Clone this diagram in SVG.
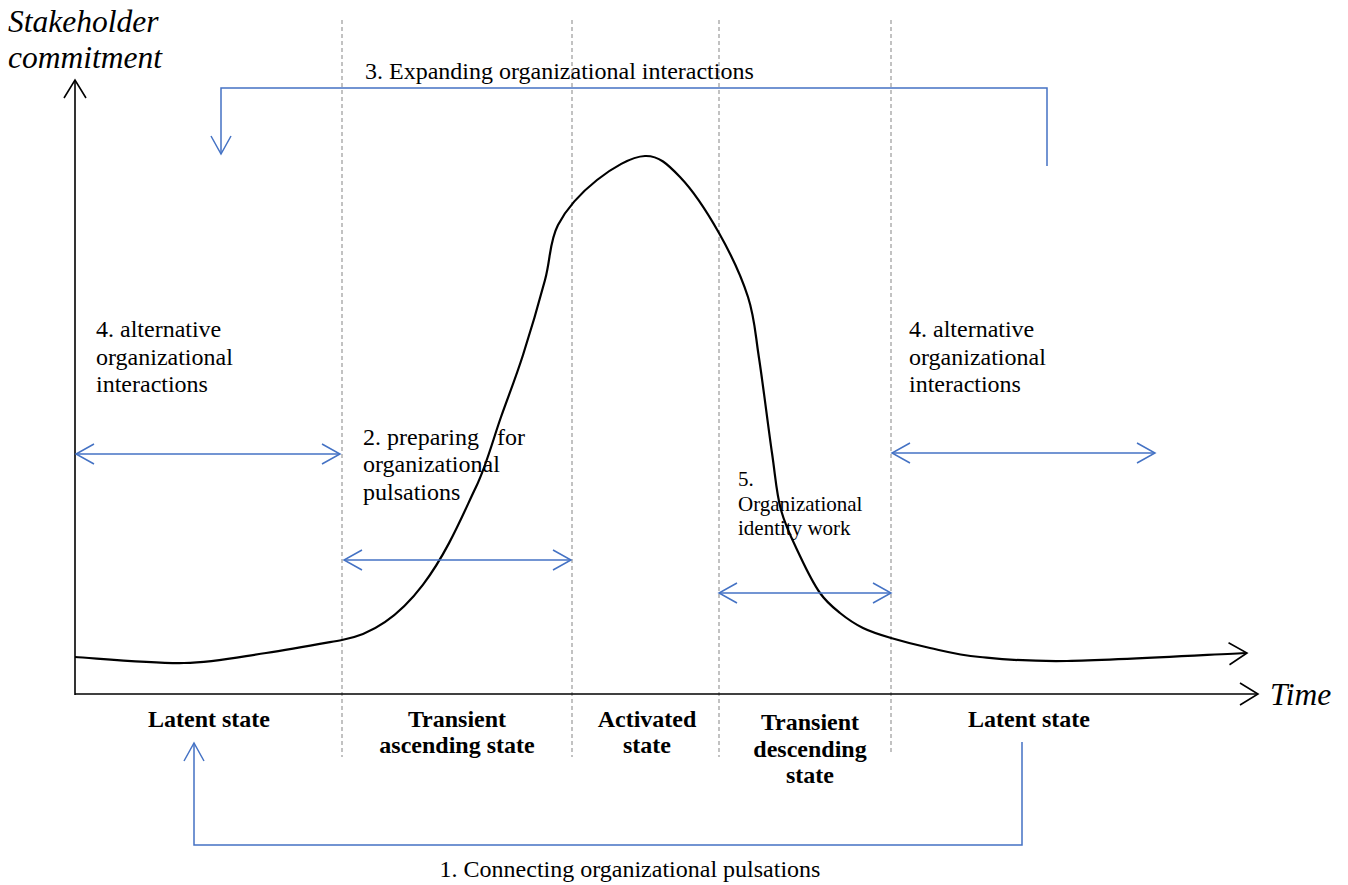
<svg xmlns="http://www.w3.org/2000/svg" width="1348" height="885" viewBox="0 0 1348 885">
<style>
.t{font-family:"Liberation Serif","Times New Roman",serif;font-size:24px;fill:#000}
.s{font-size:21px}
.b{font-weight:bold;text-anchor:middle}
.i{font-style:italic;font-size:31.5px}
.dash{stroke:#9a9a9a;stroke-width:1.2;stroke-dasharray:4 3;fill:none}
.blue{stroke:#4472C4;stroke-width:1.5;fill:none}
.axis{stroke:#000;stroke-width:1.6;fill:none}
</style>
<defs>
<marker id="bh" viewBox="-1 -1 20 22" refX="18" refY="10" markerWidth="20" markerHeight="22" markerUnits="userSpaceOnUse" orient="auto-start-reverse" overflow="visible">
<path d="M0,0 L18,10 L0,20" fill="none" stroke="#4472C4" stroke-width="1.5"/>
</marker>
<marker id="kh" viewBox="-1 -1 20 24" refX="18" refY="11" markerWidth="20" markerHeight="24" markerUnits="userSpaceOnUse" orient="auto" overflow="visible">
<path d="M0,0 L18,11 L0,22" fill="none" stroke="#000" stroke-width="1.6"/>
</marker>
</defs>
<rect width="1348" height="885" fill="#fff"/>

<g id="dividers">
<line class="dash" x1="342" y1="20" x2="342" y2="757"/>
<line class="dash" x1="572" y1="20" x2="572" y2="757"/>
<line class="dash" x1="719" y1="20" x2="719" y2="757"/>
<line class="dash" x1="891" y1="20" x2="891" y2="754"/>
</g>

<g id="axes">
<line class="axis" x1="75" y1="695" x2="75" y2="80" marker-end="url(#kh)"/>
<line class="axis" x1="75" y1="694" x2="1258" y2="694" marker-end="url(#kh)"/>
<text class="t i" x="8" y="32">Stakeholder</text>
<text class="t i" x="8" y="68">commitment</text>
<text class="t i" x="1270" y="705">Time</text>
</g>

<g id="curve">
<path fill="none" stroke="#000" stroke-width="2.2" marker-end="url(#kh)" d="M75,657 C93.2,658 152.2,663.7 184,663 C215.8,662.3 239.7,656.8 266,653 C292.3,649.2 316,644.7 342,640 C420,626 455,530 476,487 C486.2,466 493.2,439 501,417 C508.8,395 515.7,377.8 523,355 C530.3,332.2 539.2,301.7 545,280 C550.8,258.3 549.3,241.7 558,225 C566.7,208.3 582.5,191.5 597,180 C611.5,168.5 631.2,156.5 645,156 C658.8,155.5 667.7,164.2 680,177 C692.3,189.8 707.7,213 719,233 C730.3,253 741.3,276.2 748,297 C754.7,317.8 755,332 759,358 C763,384 768.3,427.7 772,453 C775.7,478.3 776.3,492.8 781,510 C785.7,527.2 793.5,542.2 800,556 C806.5,569.8 813.3,583.5 820,593 C826.7,602.5 832.8,607.2 840,613 C847.2,618.8 854.5,623.8 863,628 C871.5,632.2 879.8,634.7 891,638 C902.2,641.3 915.2,644.8 930,648 C944.8,651.2 957.2,654.8 980,657 C1002.8,659.2 1022.5,661.7 1067,661 C1111.5,660.3 1217,654.3 1247,653"/>
</g>

<g id="connectors">
<polyline class="blue" points="1047,166 1047,88 221,88 221,154" marker-end="url(#bh)"/>
<polyline class="blue" points="1022,742 1022,845 194,845 194,743" marker-end="url(#bh)"/>
<line class="blue" x1="76" y1="454" x2="340" y2="454" marker-start="url(#bh)" marker-end="url(#bh)"/>
<line class="blue" x1="892" y1="453" x2="1155" y2="453" marker-start="url(#bh)" marker-end="url(#bh)"/>
<line class="blue" x1="344" y1="560" x2="571" y2="560" marker-start="url(#bh)" marker-end="url(#bh)"/>
<line class="blue" x1="719" y1="593" x2="891" y2="593" marker-start="url(#bh)" marker-end="url(#bh)"/>
</g>

<g id="label-expanding"><text class="t" x="365" y="79">3. Expanding organizational interactions</text></g>
<g id="label-connecting"><text class="t" x="630" y="877" text-anchor="middle">1. Connecting organizational pulsations</text></g>
<g id="label-alt-left">
<text class="t" x="96" y="337">4. alternative</text>
<text class="t" x="96" y="365">organizational</text>
<text class="t" x="96" y="392">interactions</text>
</g>
<g id="label-alt-right">
<text class="t" x="909" y="337">4. alternative</text>
<text class="t" x="909" y="365">organizational</text>
<text class="t" x="909" y="392">interactions</text>
</g>
<g id="label-preparing">
<text class="t" x="363" y="445" xml:space="preserve">2. preparing   for</text>
<text class="t" x="363" y="472">organizational</text>
<text class="t" x="363" y="500">pulsations</text>
</g>
<g id="label-identity">
<text class="t s" x="738" y="486">5.</text>
<text class="t s" x="738" y="511">Organizational</text>
<text class="t s" x="738" y="535">identity work</text>
</g>

<g id="state-latent-1"><text class="t b" x="209" y="727">Latent state</text></g>
<g id="state-ascending"><text class="t b" x="457" y="727">Transient</text><text class="t b" x="457" y="753">ascending state</text></g>
<g id="state-activated"><text class="t b" x="647" y="727">Activated</text><text class="t b" x="647" y="753">state</text></g>
<g id="state-descending"><text class="t b" x="810" y="730">Transient</text><text class="t b" x="810" y="757">descending</text><text class="t b" x="810" y="783">state</text></g>
<g id="state-latent-2"><text class="t b" x="1029" y="727">Latent state</text></g>
</svg>
